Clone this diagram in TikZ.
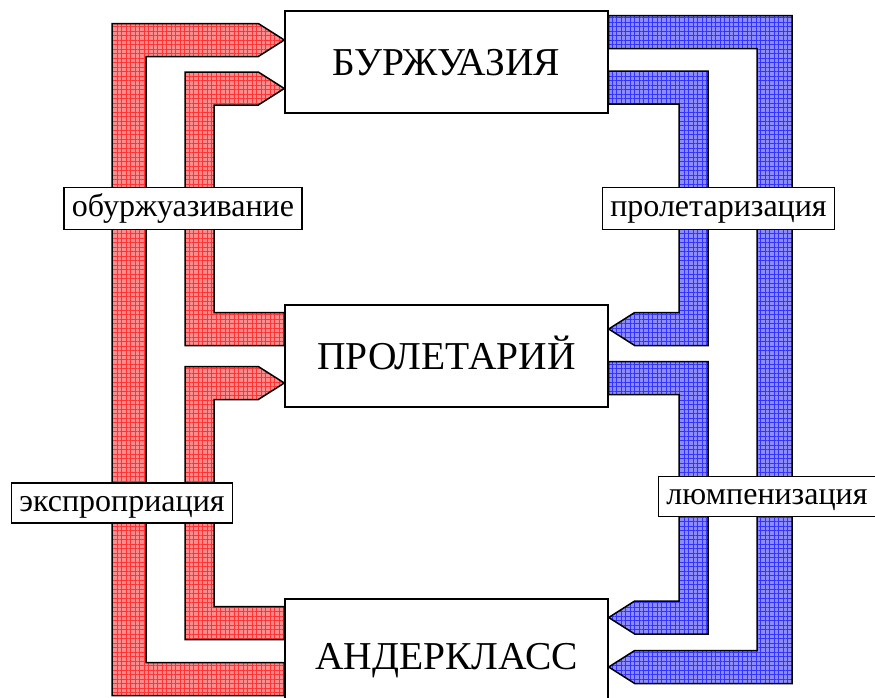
\documentclass[tikz,border=0pt]{standalone}
\usepackage{fontspec}
\setmainfont{Liberation Serif}
\usetikzlibrary{calc,patterns.meta}
\begin{document}
\begin{tikzpicture}[x=1pt, y=-1pt, line join=miter,
	klass/.style={draw, line width=1.4pt, fill=white, minimum width=323pt, inner sep=0pt, text height=26pt, text depth=0pt, font=\fontsize{39.5}{42}\selectfont},
	perehod/.style={draw, line width=1.2pt, fill=white, inner xsep=8pt, inner ysep=0pt, text height=22pt, text depth=6pt, minimum height=42pt, font=\fontsize{32}{34}\selectfont},
	redflow/.style={line width=1.5pt, preaction={fill=red!45},
		preaction={pattern={Lines[distance=4.5pt,line width=.4pt]}, pattern color=red!80},
		preaction={pattern={Lines[angle=90,distance=4.5pt,line width=.4pt]}, pattern color=red!80}},
	blueflow/.style={line width=1.5pt, preaction={fill=blue!45},
		preaction={pattern={Lines[distance=4.5pt,line width=.4pt]}, pattern color=blue!80},
		preaction={pattern={Lines[angle=90,distance=4.5pt,line width=.4pt]}, pattern color=blue!80}}]
		\def\hw{16.5}\def\hd{26}
		\useasboundingbox (0,0) rectangle (875,697);
		% classes
		\node[klass, minimum height=102pt] (bur) at (446.5,62) {БУРЖУАЗИЯ};
		\node[klass, minimum height=102pt] (pro) at (446.5,356) {ПРОЛЕТАРИЙ};
		\node[klass, minimum height=114pt] (und) at (446.5,656) {АНДЕРКЛАСС};
		% upward flows on the left
		\foreach \a/\b/\xo/\cw/\ys/\ye in {und/bur/112/34/679/40, pro/bur/185/29/329/88.5, und/pro/185/29/623/383}
		\draw[redflow] (\a.west |- 0,\ys+\hw) -- (\xo,\ys+\hw) -- (\xo,\ye-\hw) -- ($(\b.west |- 0,\ye-\hw)+(-\hd,0)$) -- (\b.west |- 0,\ye) -- ($(\b.west |- 0,\ye+\hw)+(-\hd,0)$) -- (\xo+\cw,\ye+\hw) -- (\xo+\cw,\ys-\hw) -- (\a.west |- 0,\ys-\hw) -- cycle;
		% downward flows on the right
		\foreach \a/\b/\xr/\cw/\ys/\ye in {bur/und/792/35/32/667, bur/pro/708/29/87.5/329, pro/und/708/29/378/617.5}
		\draw[blueflow] (\a.east |- 0,\ys-\hw) -- (\xr,\ys-\hw) -- (\xr,\ye+\hw) -- ($(\b.east |- 0,\ye+\hw)+(\hd,0)$) -- (\b.east |- 0,\ye) -- ($(\b.east |- 0,\ye-\hw)+(\hd,0)$) -- (\xr-\cw,\ye-\hw) -- (\xr-\cw,\ys+\hw) -- (\a.east |- 0,\ys+\hw) -- cycle;
		% labels
		\node[perehod] (obu) at (183,208.5) {обуржуазивание};
		\node[perehod] (prol) at (718.5,208.5) {пролетаризация};
		\node[perehod, minimum height=40pt] (eksp) at (122,503) {экспроприация};
		\node[perehod, minimum height=40pt] (lump) at (767,496.5) {люмпенизация};
\end{tikzpicture}
\end{document}
